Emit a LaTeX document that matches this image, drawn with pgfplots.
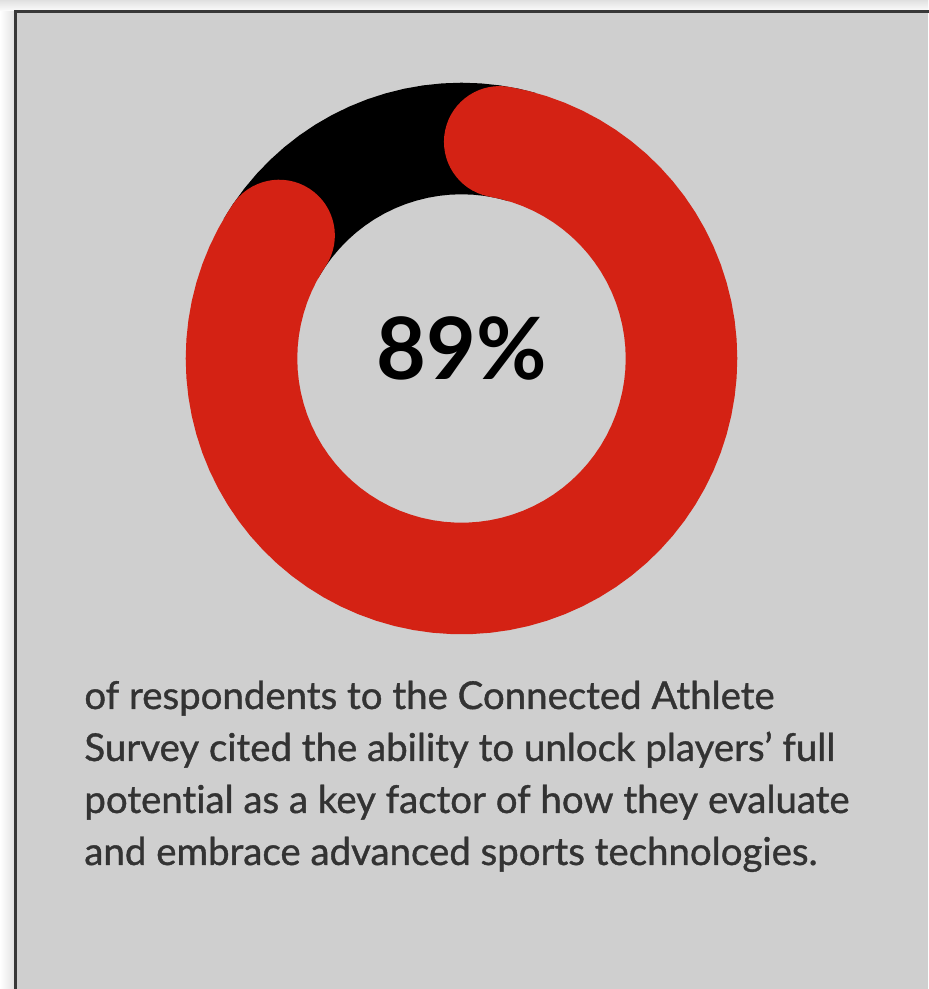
\documentclass[border=0pt]{standalone}
\usepackage{pgfplots}
\pgfplotsset{compat=1.18}
\usepgfplotslibrary{polar}
\usepackage{fontspec}
\setmainfont{Lato}[Ligatures=NoCommon]
\definecolor{ringred}{RGB}{212,34,20}
\definecolor{bg}{RGB}{207,207,207}
\definecolor{txt}{RGB}{51,51,51}
\begin{document}
\begin{tikzpicture}[x=0.5pt,y=0.5pt]
\useasboundingbox (0,0) rectangle (928,989);
\fill[white] (0,0) rectangle (928,989);
\shade[bottom color=white,top color=black!12] (0,989) rectangle (928,977);
\shade[left color=white,right color=black!12] (0,0) rectangle (15,977);
\fill[bg] (15,0) rectangle (928,977);
\draw[line width=1.5pt, color=black!78] (15,-6) -- (15,977) -- (935,977);
% share: 89% red, 11% black (angle, radius)
\begin{polaraxis}[at={(461.5,630.5)}, anchor=center, scale only axis,
  width=276pt, height=276pt, ymin=0, ymax=276, hide axis, clip=false]
\addplot[black, line width=55.75pt, no marks] table[x=a,y=r] {
a r
74 220
78 220
82 220
86 220
90 220
94 220
98 220
102 220
106 220
110 220
114 220
118 220
122 220
126 220
130 220
134 220
138 220
142 220
146 220
150 220
};
\addplot[ringred, line width=55.75pt, line cap=round, no marks] table[x=a,y=r] {
a r
80 220
76 220
72 220
68 220
64 220
60 220
56 220
52 220
48 220
44 220
40 220
36 220
32 220
28 220
24 220
20 220
16 220
12 220
8 220
4 220
0 220
-4 220
-8 220
-12 220
-16 220
-20 220
-24 220
-28 220
-32 220
-36 220
-40 220
-44 220
-48 220
-52 220
-56 220
-60 220
-64 220
-68 220
-72 220
-76 220
-80 220
-84 220
-88 220
-92 220
-96 220
-100 220
-104 220
-108 220
-112 220
-116 220
-120 220
-124 220
-128 220
-132 220
-136 220
-140 220
-144 220
-148 220
-152 220
-156 220
-160 220
-164 220
-168 220
-172 220
-176 220
-180 220
-184 220
-188 220
-192 220
-196 220
-200 220
-204 220
-208 220
-212 220
-214 220
};
\end{polaraxis}
\node[font=\fontsize{43}{43}\selectfont\bfseries, anchor=center, inner sep=0] at (461.5,641) {89\%};
\begin{scope}[every node/.style={anchor=base west, inner sep=0, text=txt, font=\fontsize{19.2}{26}\selectfont\addfontfeatures{FakeBold=1}}]
\node at (84,280) {of respondents to the Connected Athlete};
\node at (84,228) {Survey cited the ability to unlock players’ full};
\node at (84,176) {potential as a key factor of how they evaluate};
\node at (84,124) {and embrace advanced sports technologies.};
\end{scope}
\end{tikzpicture}
\end{document}
